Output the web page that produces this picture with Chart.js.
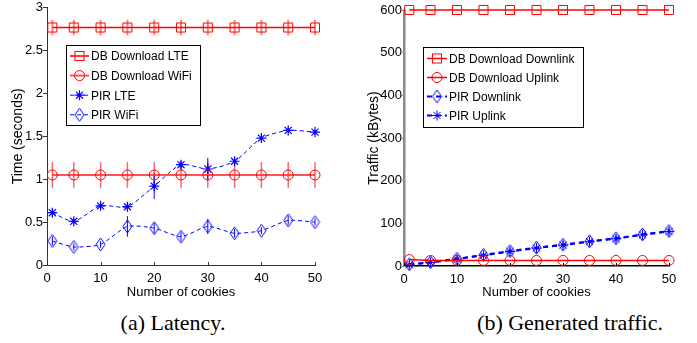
<!DOCTYPE html>
<html>
<head>
<meta charset="utf-8">
<script src="https://cdn.jsdelivr.net/npm/chart.js@4"></script>
<style>
  html, body { margin: 0; padding: 0; background: #fff; }
  #page { position: relative; width: 697px; height: 343px; overflow: hidden; }
  .fig { position: absolute; top: 0; }
  .cap {
    position: absolute; top: 310px; line-height: 26px;
    font-family: "Liberation Serif", "Times New Roman", serif; font-size: 22px;
    color: #000; white-space: nowrap; transform: translateX(-50%);
  }
</style>
</head>
<body>
<div id="page">
  <canvas id="latency" class="fig" style="left:0" width="340" height="305"></canvas>
  <canvas id="traffic" class="fig" style="left:350px" width="347" height="305"></canvas>
  <div class="cap" style="left:173px">(a) Latency.</div>
  <div class="cap" style="left:570px">(b) Generated traffic.</div>
</div>
<script>
// number of cookies on the x axis
const cookies = [1, 5, 10, 15, 20, 25, 30, 35, 40, 45, 50];
const cookieTicks = [0, 10, 20, 30, 40, 50];

// (a) latency, seconds
const dbLte      = [2.77, 2.77, 2.77, 2.77, 2.77, 2.77, 2.77, 2.77, 2.77, 2.77, 2.77];
const dbLteErr   = [0.09, 0.09, 0.09, 0.09, 0.09, 0.09, 0.09, 0.09, 0.09, 0.09, 0.09];
const dbWifi     = [1.05, 1.05, 1.05, 1.05, 1.05, 1.05, 1.05, 1.05, 1.05, 1.05, 1.05];
const dbWifiErr  = [0.15, 0.15, 0.15, 0.15, 0.15, 0.15, 0.15, 0.15, 0.15, 0.15, 0.15];
const pirLte     = [0.61, 0.51, 0.69, 0.68, 0.92, 1.17, 1.12, 1.21, 1.48, 1.57, 1.55];
const pirLteErr  = [0.03, 0.03, 0.03, 0.04, 0.15, 0.04, 0.13, 0.05, 0.03, 0.03, 0.03];
const pirWifi    = [0.28, 0.21, 0.24, 0.45, 0.43, 0.33, 0.45, 0.37, 0.40, 0.52, 0.50];
const pirWifiErr = [0.05, 0.04, 0.04, 0.12, 0.06, 0.05, 0.09, 0.05, 0.04, 0.05, 0.04];
const latencyTicks = [0, 0.5, 1, 1.5, 2, 2.5, 3];

// (b) generated traffic, kBytes
const dbDown     = [600, 600, 600, 600, 600, 600, 600, 600, 600, 600, 600];
const dbUp       = [15, 13, 13, 13, 13, 13, 13, 13, 13, 13, 13];
const pirDown    = [4, 9, 17, 26, 35, 43, 50, 58, 65, 74, 82];
const pirDownErr = [8, 8, 8, 8, 8, 8, 8, 8, 8, 8, 8];
const pirUp      = [3, 8, 16, 25, 34, 42, 49, 57, 64, 73, 81];
const pirUpErr   = [4, 4, 4, 4, 4, 4, 4, 4, 4, 4, 4];
const trafficTicks = [0, 100, 200, 300, 400, 500, 600];

const SANS = '"Liberation Sans", Arial, Helvetica, sans-serif';
const RED = '#ff0000';
const BLUE = '#0000ff';

const xy = ys => cookies.map((c, i) => ({x: c, y: ys[i]}));

// tall matlab-like diamond marker
function diamond(w, h, color) {
  const c = document.createElement('canvas');
  c.width = w + 2; c.height = h + 2;
  const g = c.getContext('2d');
  g.strokeStyle = color; g.lineWidth = 1;
  g.beginPath();
  g.moveTo(c.width / 2, 1);
  g.lineTo(c.width - 1, c.height / 2);
  g.lineTo(c.width / 2, c.height - 1);
  g.lineTo(1, c.height / 2);
  g.closePath();
  g.stroke();
  return c;
}
const blueDiamond = diamond(9, 13, BLUE);

function drawMarker(ctx, ds, x, y) {
  const st = ds.pointStyle, r = ds.pointRadius;
  ctx.save();
  ctx.strokeStyle = ds.pointBorderColor || ds.borderColor;
  ctx.lineWidth = ds.pointBorderWidth || 1;
  ctx.setLineDash([]);
  if (st instanceof HTMLCanvasElement) {
    ctx.drawImage(st, x - st.width / 2, y - st.height / 2);
  } else if (st === 'rect') {
    const s = r * Math.SQRT1_2;
    ctx.strokeRect(x - s, y - s, 2 * s, 2 * s);
  } else if (st === 'circle') {
    ctx.beginPath(); ctx.arc(x, y, r, 0, Math.PI * 2); ctx.stroke();
  } else if (st === 'star') {
    ctx.beginPath();
    for (let k = 0; k < 4; k++) {
      const a = k * Math.PI / 4;
      ctx.moveTo(x - r * Math.cos(a), y - r * Math.sin(a));
      ctx.lineTo(x + r * Math.cos(a), y + r * Math.sin(a));
    }
    ctx.stroke();
  }
  ctx.restore();
}

// vertical error bars behind the markers
const errorBars = {
  id: 'errorBars',
  beforeDatasetsDraw(chart) {
    const ctx = chart.ctx, ys = chart.scales.y;
    ctx.save();
    chart.data.datasets.forEach((ds, i) => {
      if (!ds.errors) return;
      const meta = chart.getDatasetMeta(i);
      ctx.strokeStyle = ds.errorColor;
      ctx.lineWidth = ds.errorWidth;
      meta.data.forEach((pt, j) => {
        const v = ds.data[j].y, e = ds.errors[j];
        ctx.beginPath();
        ctx.moveTo(pt.x, ys.getPixelForValue(v - e));
        ctx.lineTo(pt.x, ys.getPixelForValue(v + e));
        ctx.stroke();
      });
    });
    ctx.restore();
  }
};

// small inward ticks on the x axis
const innerTicks = {
  id: 'innerTicks',
  afterDraw(chart, args, o) {
    const ctx = chart.ctx, xs = chart.scales.x, b = chart.chartArea.bottom;
    ctx.save();
    ctx.strokeStyle = o.color; ctx.lineWidth = 1;
    xs.ticks.forEach(t => {
      const px = Math.round(xs.getPixelForValue(t.value)) + 0.5;
      ctx.beginPath(); ctx.moveTo(px, b); ctx.lineTo(px, b - 3); ctx.stroke();
    });
    ctx.restore();
  }
};

// boxed legend inside the plot
const boxLegend = {
  id: 'boxLegend',
  afterDatasetsDraw(chart, args, o) {
    const ctx = chart.ctx;
    ctx.save();
    ctx.fillStyle = '#fff';
    ctx.fillRect(o.x, o.y, o.w, o.h);
    ctx.strokeStyle = '#000'; ctx.lineWidth = 1;
    ctx.strokeRect(o.x + 0.5, o.y + 0.5, o.w, o.h);
    ctx.font = '12px ' + SANS;
    ctx.textBaseline = 'middle';
    chart.data.datasets.forEach((ds, i) => {
      const y = o.top + i * o.step;
      ctx.strokeStyle = ds.borderColor;
      ctx.lineWidth = ds.borderWidth;
      ctx.setLineDash(ds.borderDash || []);
      ctx.beginPath(); ctx.moveTo(o.x0, y); ctx.lineTo(o.x1, y); ctx.stroke();
      drawMarker(ctx, ds, (o.x0 + o.x1) / 2, y);
      ctx.fillStyle = '#000';
      ctx.fillText(ds.label, o.tx, y + 1);
    });
    ctx.restore();
  }
};

function options(cfg) {
  return {
    responsive: false,
    animation: false,
    layout: {padding: cfg.padding},
    plugins: {
      legend: {display: false},
      tooltip: {enabled: false},
      boxLegend: cfg.legend,
      innerTicks: {color: cfg.xBorder.color}
    },
    scales: {
      x: {
        type: 'linear', min: 0, max: 50,
        afterBuildTicks: s => { s.ticks = cookieTicks.map(v => ({value: v})); },
        afterFit: s => { s.height = cfg.xHeight; },
        grid: {display: false, drawTicks: false},
        border: cfg.xBorder,
        ticks: {padding: 6, color: '#000', font: {family: SANS, size: 13}, callback: v => String(v)},
        title: {display: true, text: 'Number of cookies', color: '#000',
                font: {family: SANS, size: 13}, padding: {top: 0, bottom: 5}}
      },
      y: {
        type: 'linear', min: cfg.yMin, max: cfg.yMax,
        afterBuildTicks: s => { s.ticks = cfg.yTicks.map(v => ({value: v})); },
        afterFit: s => { s.width = cfg.yWidth; },
        grid: {display: true, drawOnChartArea: false, drawTicks: true, tickLength: cfg.yTickLen, color: cfg.yBorder.color},
        border: cfg.yBorder,
        ticks: {padding: 0, color: '#000', font: {family: SANS, size: 13}, callback: v => String(v)},
        title: {display: true, text: cfg.yTitle, color: '#000',
                font: {family: SANS, size: 14}, padding: {top: cfg.yTitlePad, bottom: 0}}
      }
    }
  };
}

new Chart(document.getElementById('latency'), {
  type: 'line',
  data: {
    datasets: [
      {label: 'DB Download LTE', data: xy(dbLte), errors: dbLteErr,
       borderColor: RED, borderWidth: 1.5, pointStyle: 'rect', pointRadius: 6.4,
       pointBorderColor: RED, pointBackgroundColor: 'transparent', pointBorderWidth: 1,
       errorColor: 'rgba(255,0,0,0.5)', errorWidth: 2, clip: false},
      {label: 'DB Download WiFi', data: xy(dbWifi), errors: dbWifiErr,
       borderColor: 'rgba(255,40,40,0.8)', borderWidth: 2, pointStyle: 'circle', pointRadius: 5,
       pointBorderColor: RED, pointBackgroundColor: 'transparent', pointBorderWidth: 1,
       errorColor: 'rgba(255,0,0,0.6)', errorWidth: 1.5, clip: false},
      {label: 'PIR LTE', data: xy(pirLte), errors: pirLteErr,
       borderColor: BLUE, borderWidth: 1, borderDash: [4, 3], tension: 0.25,
       pointStyle: 'star', pointRadius: 5, pointBorderColor: BLUE, pointBorderWidth: 1.2,
       errorColor: BLUE, errorWidth: 1, clip: false},
      {label: 'PIR WiFi', data: xy(pirWifi), errors: pirWifiErr,
       borderColor: BLUE, borderWidth: 1, borderDash: [4, 3], tension: 0.2,
       pointStyle: blueDiamond, pointRadius: 6, pointBorderColor: BLUE, pointBorderWidth: 1,
       errorColor: BLUE, errorWidth: 1, clip: false}
    ]
  },
  options: options({
    padding: {left: 0, top: 7, right: 25, bottom: 0},
    yMin: 0, yMax: 3, yTicks: latencyTicks, yTitle: 'Time (seconds)',
    yWidth: 47, xHeight: 40, yTickLen: 4, yTitlePad: 10,
    xBorder: {display: true, color: '#333', width: 1},
    yBorder: {display: true, color: '#333', width: 1},
    legend: {x: 66, y: 45, w: 134, h: 80, top: 56, step: 19.6, x0: 70, x1: 89, tx: 91}
  }),
  plugins: [errorBars, innerTicks, boxLegend]
});

new Chart(document.getElementById('traffic'), {
  type: 'line',
  data: {
    datasets: [
      {label: 'DB Download Downlink', data: xy(dbDown),
       borderColor: RED, borderWidth: 1.5, pointStyle: 'rect', pointRadius: 6.4,
       pointBorderColor: RED, pointBackgroundColor: 'transparent', pointBorderWidth: 1, clip: false},
      {label: 'DB Download Uplink', data: xy(dbUp),
       borderColor: RED, borderWidth: 1.5, pointStyle: 'circle', pointRadius: 5,
       pointBorderColor: RED, pointBackgroundColor: 'transparent', pointBorderWidth: 1, clip: false},
      {label: 'PIR Downlink', data: xy(pirDown), errors: pirDownErr,
       borderColor: BLUE, borderWidth: 2, borderDash: [5, 4],
       pointStyle: blueDiamond, pointRadius: 6, pointBorderColor: BLUE, pointBorderWidth: 1,
       errorColor: BLUE, errorWidth: 1, clip: false},
      {label: 'PIR Uplink', data: xy(pirUp), errors: pirUpErr,
       borderColor: BLUE, borderWidth: 2, borderDash: [5, 4],
       pointStyle: 'star', pointRadius: 5, pointBorderColor: BLUE, pointBorderWidth: 1,
       errorColor: BLUE, errorWidth: 1, clip: false}
    ]
  },
  options: options({
    padding: {left: 0, top: 10, right: 28, bottom: 0},
    yMin: 0, yMax: 600, yTicks: trafficTicks, yTitle: 'Traffic (kBytes)',
    yWidth: 54, xHeight: 39, yTickLen: 2, yTitlePad: 16,
    xBorder: {display: true, color: '#000', width: 1.5},
    yBorder: {display: true, color: '#8a8a8a', width: 2.5},
    legend: {x: 73, y: 47, w: 160, h: 80, top: 58.5, step: 19, x0: 77, x1: 97, tx: 99}
  }),
  plugins: [errorBars, innerTicks, boxLegend]
});
</script>
</body>
</html>
